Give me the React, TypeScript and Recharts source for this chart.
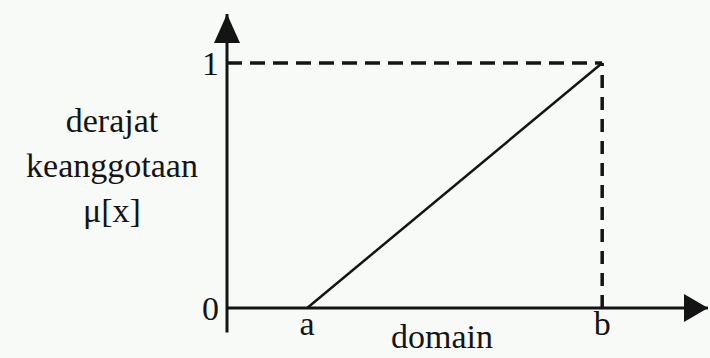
import React from 'react';
import {
    ComposedChart, Line, XAxis, YAxis, ReferenceLine, ReferenceDot, Label
} from 'recharts';

// fungsi keanggotaan linear naik: a -> b
const xTickValues = [1, 4.68];
const xTickLabels = ['a', 'b'];
const yTickValues = [0, 1];
const yTickLabels = ['0', '1'];
const membership = [
    { x: 1, y: 0 },
    { x: 4.68, y: 1 },
];
const xMax = 6;
const yMax = 1.2;
const yAxisLabel = ['derajat', 'keanggotaan', 'μ[x]'];
const xAxisLabel = 'domain';

const INK = '#141414';
const FONT = '"Liberation Serif", "Times New Roman", serif';

if (typeof document !== 'undefined') {
    document.body.style.margin = '0';
}

const XTick = ({ x, y, payload }: any) => {
    const i = xTickValues.indexOf(payload.value);
    return (
        <text x={x} y={y + 19} textAnchor="middle" fill={INK} fontSize={34} fontFamily={FONT}>
            {xTickLabels[i] ?? ''}
        </text>
    );
};

const YTick = ({ x, y, payload }: any) => {
    const i = yTickValues.indexOf(payload.value);
    return (
        <text x={x} y={y} dy="0.35em" textAnchor="end" fill={INK} fontSize={34} fontFamily={FONT}>
            {yTickLabels[i] ?? ''}
        </text>
    );
};

const ArrowRight = ({ cx, cy }: any) => (
    <polygon points={`${cx},${cy} ${cx - 24},${cy - 14} ${cx - 24},${cy + 14}`} fill={INK} />
);

const ArrowUp = ({ cx, cy }: any) => (
    <polygon points={`${cx},${cy} ${cx - 13},${cy + 29} ${cx + 13},${cy + 29}`} fill={INK} />
);

export default function App() {
    const b = membership[1].x;
    return (
        <div style={{ width: 710, height: 358, background: '#f8faf8' }}>
            <ComposedChart
                width={710}
                height={358}
                data={membership}
                margin={{ top: 14, right: 2, bottom: 20, left: 187 }}
            >
                <XAxis
                    dataKey="x"
                    type="number"
                    domain={[0, xMax]}
                    ticks={xTickValues}
                    height={30}
                    tickLine={false}
                    axisLine={{ stroke: INK, strokeWidth: 3 }}
                    tick={<XTick />}
                    interval={0}
                >
                    <Label
                        content={() => (
                            <text x={442} y={348} textAnchor="middle" fill={INK} fontSize={34} fontFamily={FONT}>
                                {xAxisLabel}
                            </text>
                        )}
                    />
                </XAxis>
                <YAxis
                    type="number"
                    domain={[0, yMax]}
                    ticks={yTickValues}
                    width={40}
                    tickLine={false}
                    axisLine={{ stroke: INK, strokeWidth: 3 }}
                    tick={<YTick />}
                    interval={0}
                >
                    <Label
                        content={() => (
                            <text textAnchor="middle" fill={INK} fontSize={34} fontFamily={FONT}>
                                {yAxisLabel.map((t, i) => (
                                    <tspan key={t} x={112} y={132 + i * 45}>{t}</tspan>
                                ))}
                            </text>
                        )}
                    />
                </YAxis>
                <ReferenceLine
                    segment={[{ x: 0, y: 1 }, { x: b, y: 1 }]}
                    stroke={INK}
                    strokeWidth={3.5}
                    strokeDasharray="15 8"
                />
                <ReferenceLine
                    segment={[{ x: b, y: 0 }, { x: b, y: 1 }]}
                    stroke={INK}
                    strokeWidth={3.5}
                    strokeDasharray="13 9"
                />
                <ReferenceLine
                    segment={[{ x: 0, y: 0 }, { x: 0, y: -0.1 }]}
                    stroke={INK}
                    strokeWidth={3}
                    ifOverflow="visible"
                />
                <Line
                    dataKey="y"
                    stroke={INK}
                    strokeWidth={2.5}
                    dot={false}
                    activeDot={false}
                    isAnimationActive={false}
                />
                <ReferenceDot x={xMax} y={0} ifOverflow="visible" shape={<ArrowRight />} />
                <ReferenceDot x={0} y={yMax} ifOverflow="visible" shape={<ArrowUp />} />
            </ComposedChart>
        </div>
    );
}
